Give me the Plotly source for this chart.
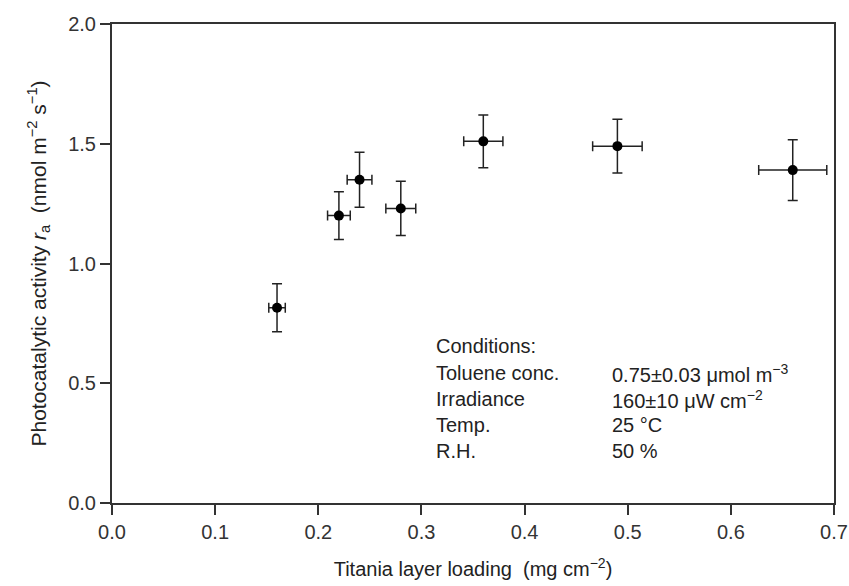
import plotly.graph_objects as go

# Data
loading = [0.16, 0.22, 0.24, 0.28, 0.36, 0.49, 0.66]
activity = [0.815, 1.20, 1.35, 1.23, 1.51, 1.49, 1.39]
activity_err = [0.10, 0.10, 0.115, 0.113, 0.11, 0.112, 0.127]
loading_err = [0.008, 0.011, 0.012, 0.0145, 0.019, 0.024, 0.033]

x_ticks = [0.0, 0.1, 0.2, 0.3, 0.4, 0.5, 0.6, 0.7]
y_ticks = [0.0, 0.5, 1.0, 1.5, 2.0]

cond_labels = ["Conditions:", "Toluene conc.", "Irradiance", "Temp.", "R.H."]
cond_values = ["", "0.75±0.03 μmol m<sup>−3</sup>", "160±10 μW cm<sup>−2</sup>", "25 °C", "50 %"]
cond_rows_y = [0.655, 0.542, 0.434, 0.325, 0.217]

FONT = "Liberation Sans, Arial, sans-serif"
INK = "#222222"

fig = go.Figure()
fig.add_trace(go.Scatter(
    x=loading, y=activity, mode="markers",
    marker=dict(color="black", size=10, symbol="circle"),
    error_y=dict(type="data", array=activity_err, color=INK, thickness=1.5, width=5),
    error_x=dict(type="data", array=loading_err, color=INK, thickness=1.5, width=5),
    showlegend=False,
))

annotations = []
for lab, val, yy in zip(cond_labels, cond_values, cond_rows_y):
    annotations.append(dict(x=0.312, y=yy, xref="x", yref="y", text=lab, showarrow=False,
                            xanchor="left", yanchor="middle", font=dict(family=FONT, size=20, color=INK)))
    if val:
        annotations.append(dict(x=0.483, y=yy, xref="x", yref="y", text=val, showarrow=False,
                                xanchor="left", yanchor="middle", font=dict(family=FONT, size=20, color=INK)))

axis_common = dict(
    showline=True, linecolor="#333333", linewidth=2, mirror=True,
    ticks="outside", ticklen=10, tickwidth=1.5, tickcolor="#333333",
    showgrid=False, zeroline=False, automargin=False,
    tickfont=dict(family=FONT, size=20, color="#333333"),
)

fig.update_layout(
    width=849, height=586,
    margin=dict(l=112, r=15, t=24, b=83),
    paper_bgcolor="white", plot_bgcolor="white",
    font=dict(family=FONT, color=INK),
    xaxis=dict(range=[0, 0.7], tickvals=x_ticks, ticktext=[f"{v:.1f}" for v in x_ticks],
               title=dict(text="Titania layer loading  (mg cm<sup>−2</sup>)",
                          font=dict(family=FONT, size=20, color=INK), standoff=20),
               **axis_common),
    yaxis=dict(range=[0, 2.0], tickvals=y_ticks, ticktext=[f"{v:.1f}" for v in y_ticks],
               title=dict(text="Photocatalytic activity <i>r</i><sub>a</sub>  (nmol m<sup>−2</sup> s<sup>−1</sup>)",
                          font=dict(family=FONT, size=21, color=INK), standoff=16),
               **axis_common),
    annotations=annotations,
)

fig.write_html("out.html")
